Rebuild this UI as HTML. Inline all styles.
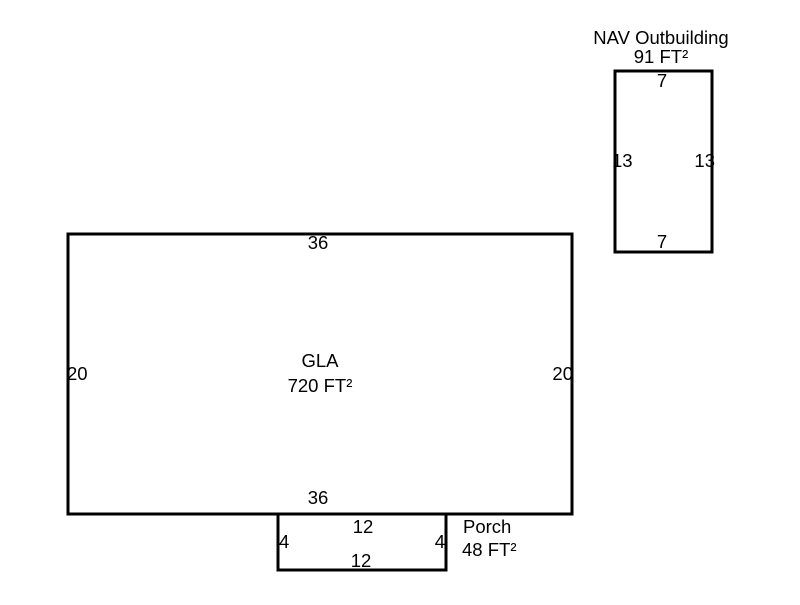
<!DOCTYPE html>
<html><head><meta charset="utf-8"><style>
html,body{margin:0;padding:0;background:#fff;}
svg text{font-family:"Liberation Sans",Arial,sans-serif;font-size:18.5px;fill:#000;}
</style></head><body>
<svg width="800" height="600" xmlns="http://www.w3.org/2000/svg">
<g fill="none" stroke="#000" stroke-width="3">
<rect x="68" y="234" width="504" height="280"/>
<rect x="278" y="514" width="168" height="56"/>
<rect x="615" y="71" width="97" height="181"/>
</g>
<text x="318" y="249" text-anchor="middle">36</text>
<text x="318" y="504" text-anchor="middle">36</text>
<text x="67" y="380">20</text>
<text x="573" y="380" text-anchor="end">20</text>
<text x="320" y="367" text-anchor="middle">GLA</text>
<text x="320" y="392" text-anchor="middle">720 FT²</text>
<text x="363" y="533" text-anchor="middle">12</text>
<text x="361" y="567" text-anchor="middle">12</text>
<text x="279" y="548">4</text>
<text x="445" y="548" text-anchor="end">4</text>
<text x="463" y="533">Porch</text>
<text x="462" y="556">48 FT²</text>
<text x="661" y="44" text-anchor="middle">NAV Outbuilding</text>
<text x="661" y="63" text-anchor="middle">91 FT²</text>
<text x="662" y="87" text-anchor="middle">7</text>
<text x="662" y="248" text-anchor="middle">7</text>
<text x="612" y="167">13</text>
<text x="715" y="167" text-anchor="end">13</text>
</svg>
</body></html>
